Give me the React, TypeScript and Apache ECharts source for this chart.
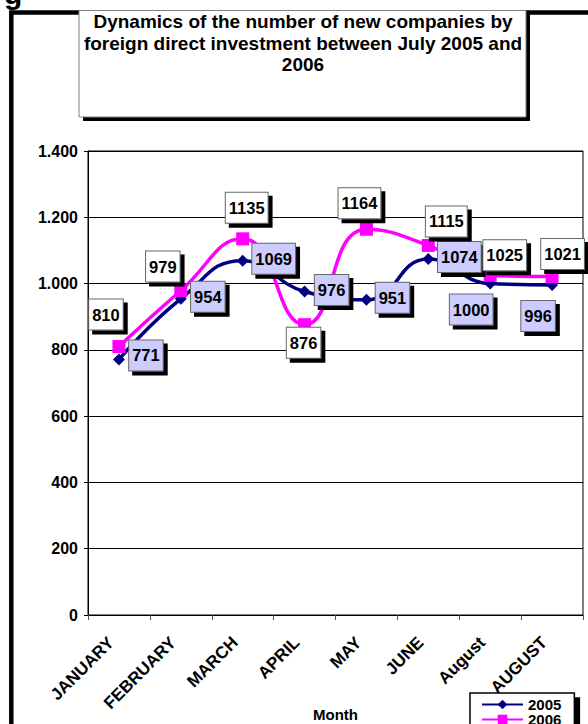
import React, { useEffect, useRef } from 'react';
import * as echarts from 'echarts';

// ---- data ----
const categories = ['JANUARY', 'FEBRUARY', 'MARCH', 'APRIL', 'MAY', 'JUNE', 'August', 'AUGUST'];
const values2005 = [771, 954, 1069, 976, 951, 1074, 1000, 996];
const values2006 = [810, 979, 1135, 876, 1164, 1115, 1025, 1021];
const seriesNames = ['2005', '2006'];
const yMin = 0;
const yMax = 1400;
const yInterval = 200;
const titleLines = [
  'Dynamics of the number of new companies by',
  'foreign direct investment between July 2005 and',
  '2006',
];
const xAxisName = 'Month';

// ---- layout (label offsets from each point, px) ----
const LABEL_OFFSETS_2005 = [[27, -4], [27, -2], [31, -2], [27, -1.5], [26, -2], [31, -2], [-19, 26], [-14, 31]];
const LABEL_OFFSETS_2006 = [[-13, -32], [-18, -24], [4, -31], [-1, 18], [-7, -26], [18, -24], [14.5, -20], [10.5, -22.5]];

const FONT = '"Liberation Sans", Arial, Helvetica, sans-serif';
const NAVY = '#000080';
const MAGENTA = '#FF00FF';

const fmtThousands = (v: number) => String(v).replace(/\B(?=(\d{3})+(?!\d))/g, '.');

function labelSeries(name: string, values: number[], offsets: number[][], bg: string) {
  return {
    type: 'scatter',
    name,
    z: 10,
    silent: true,
    symbol: 'circle',
    symbolSize: 1,
    itemStyle: { color: 'rgba(0,0,0,0)', opacity: 1 },
    data: values.map((v, i) => ({ value: v, label: { offset: offsets[i] } })),
    label: {
      show: true,
      position: 'inside',
      formatter: (p: any) => String(values[p.dataIndex]),
      color: '#000',
      opacity: 1,
      fontFamily: FONT,
      fontSize: 16.5,
      fontWeight: 'bold',
      lineHeight: 18,
      padding: [6, 3, 6, 3],
      backgroundColor: bg,
      borderColor: '#666666',
      borderWidth: 1,
      shadowColor: '#000',
      shadowBlur: 0,
      shadowOffsetX: 4,
      shadowOffsetY: 4,
    },
  };
}

export default function App() {
  const ref = useRef<HTMLDivElement>(null);

  useEffect(() => {
    document.body.style.margin = '0';
    if (!ref.current) return;
    const chart = echarts.init(ref.current, null, { renderer: 'svg' });

    const option: any = {
      animation: false,
      backgroundColor: '#ffffff',
      textStyle: { fontFamily: FONT },
      grid: {
        left: 88,
        right: 5,
        top: 151,
        bottom: 109,
        show: true,
        borderColor: '#000',
        borderWidth: 1,
        backgroundColor: 'transparent',
        containLabel: false,
        outerBoundsMode: 'none',
      },
      xAxis: {
        type: 'category',
        data: categories,
        boundaryGap: true,
        name: xAxisName,
        nameLocation: 'middle',
        nameGap: 92,
        nameMoveOverlap: false,
        nameTextStyle: { fontSize: 15, fontWeight: 'bold', color: '#000', fontFamily: FONT },
        axisLine: { show: true, lineStyle: { color: '#000', width: 1 } },
        axisTick: { show: true, length: 5, alignWithLabel: false, lineStyle: { color: '#555' } },
        axisLabel: {
          interval: 0,
          rotate: 45,
          margin: 17,
          padding: [0, 11, 0, 0],
          fontSize: 17,
          fontWeight: 'bold',
          color: '#000',
          fontFamily: FONT,
        },
        splitLine: { show: false },
      },
      yAxis: {
        type: 'value',
        min: yMin,
        max: yMax,
        interval: yInterval,
        axisLine: { show: true, lineStyle: { color: '#000', width: 1 } },
        axisTick: { show: true, length: 4, lineStyle: { color: '#000' } },
        axisLabel: {
          margin: 10,
          fontSize: 16,
          fontWeight: 'bold',
          color: '#000',
          fontFamily: FONT,
          formatter: (v: number) => fmtThousands(v),
        },
        splitLine: { show: true, lineStyle: { color: '#000', width: 1 } },
      },
      legend: {
        data: seriesNames,
        orient: 'vertical',
        left: 470,
        top: 693,
        height: 60,
        width: 120,
        itemWidth: 41,
        itemHeight: 12,
        itemGap: 0,
        padding: [4, 13, 4, 11],
        backgroundColor: '#fff',
        borderColor: '#000',
        borderWidth: 1.5,
        shadowColor: '#000',
        shadowBlur: 0,
        shadowOffsetX: 5,
        shadowOffsetY: 5,
        selectedMode: false,
        textStyle: { fontSize: 15, fontWeight: 'bold', color: '#000', lineHeight: 12, fontFamily: FONT },
      },
      series: [
        {
          type: 'line',
          name: seriesNames[0],
          data: values2005,
          smooth: 0.5,
          symbol: 'diamond',
          symbolSize: 12,
          lineStyle: { color: NAVY, width: 3.5 },
          itemStyle: { color: NAVY },
          z: 3,
        },
        {
          type: 'line',
          name: seriesNames[1],
          data: values2006,
          smooth: 0.5,
          symbol: 'rect',
          symbolSize: 13,
          lineStyle: { color: MAGENTA, width: 3.5 },
          itemStyle: { color: MAGENTA },
          z: 4,
        },
        labelSeries('lbl2005', values2005, LABEL_OFFSETS_2005, '#CCCCFF'),
        labelSeries('lbl2006', values2006, LABEL_OFFSETS_2006, '#FFFFFF'),
      ],
      graphic: [
        {
          type: 'text',
          x: 4,
          y: -7,
          z: 1,
          style: { text: 'g', fontSize: 30, fontWeight: 'bold', fontFamily: FONT, fill: '#000', verticalAlign: 'middle' },
        },
        {
          type: 'polyline',
          z: 1,
          shape: { points: [[11.3, 760], [11.3, 12.5], [620, 12.5]] },
          style: { fill: null, stroke: '#000', lineWidth: 4.5 },
        },
        {
          type: 'rect',
          z: 2,
          shape: { x: 83, y: 14, width: 447, height: 107 },
          style: { fill: '#000' },
        },
        {
          type: 'rect',
          z: 3,
          shape: { x: 79, y: 10.5, width: 447, height: 106.5 },
          style: { fill: '#fff', stroke: '#808080', lineWidth: 1 },
        },
        {
          type: 'text',
          z: 4,
          x: 303,
          y: 11,
          style: {
            text: titleLines.join('\n'),
            fontSize: 19,
            fontWeight: 'bold',
            lineHeight: 21.5,
            fontFamily: FONT,
            fill: '#000',
            align: 'center',
            verticalAlign: 'top',
          },
        },
      ],
    };

    chart.setOption(option);
    return () => chart.dispose();
  }, []);

  return (
    <div
      ref={ref}
      style={{ position: 'absolute', left: 0, top: 0, width: 588, height: 724, background: '#fff' }}
    />
  );
}
